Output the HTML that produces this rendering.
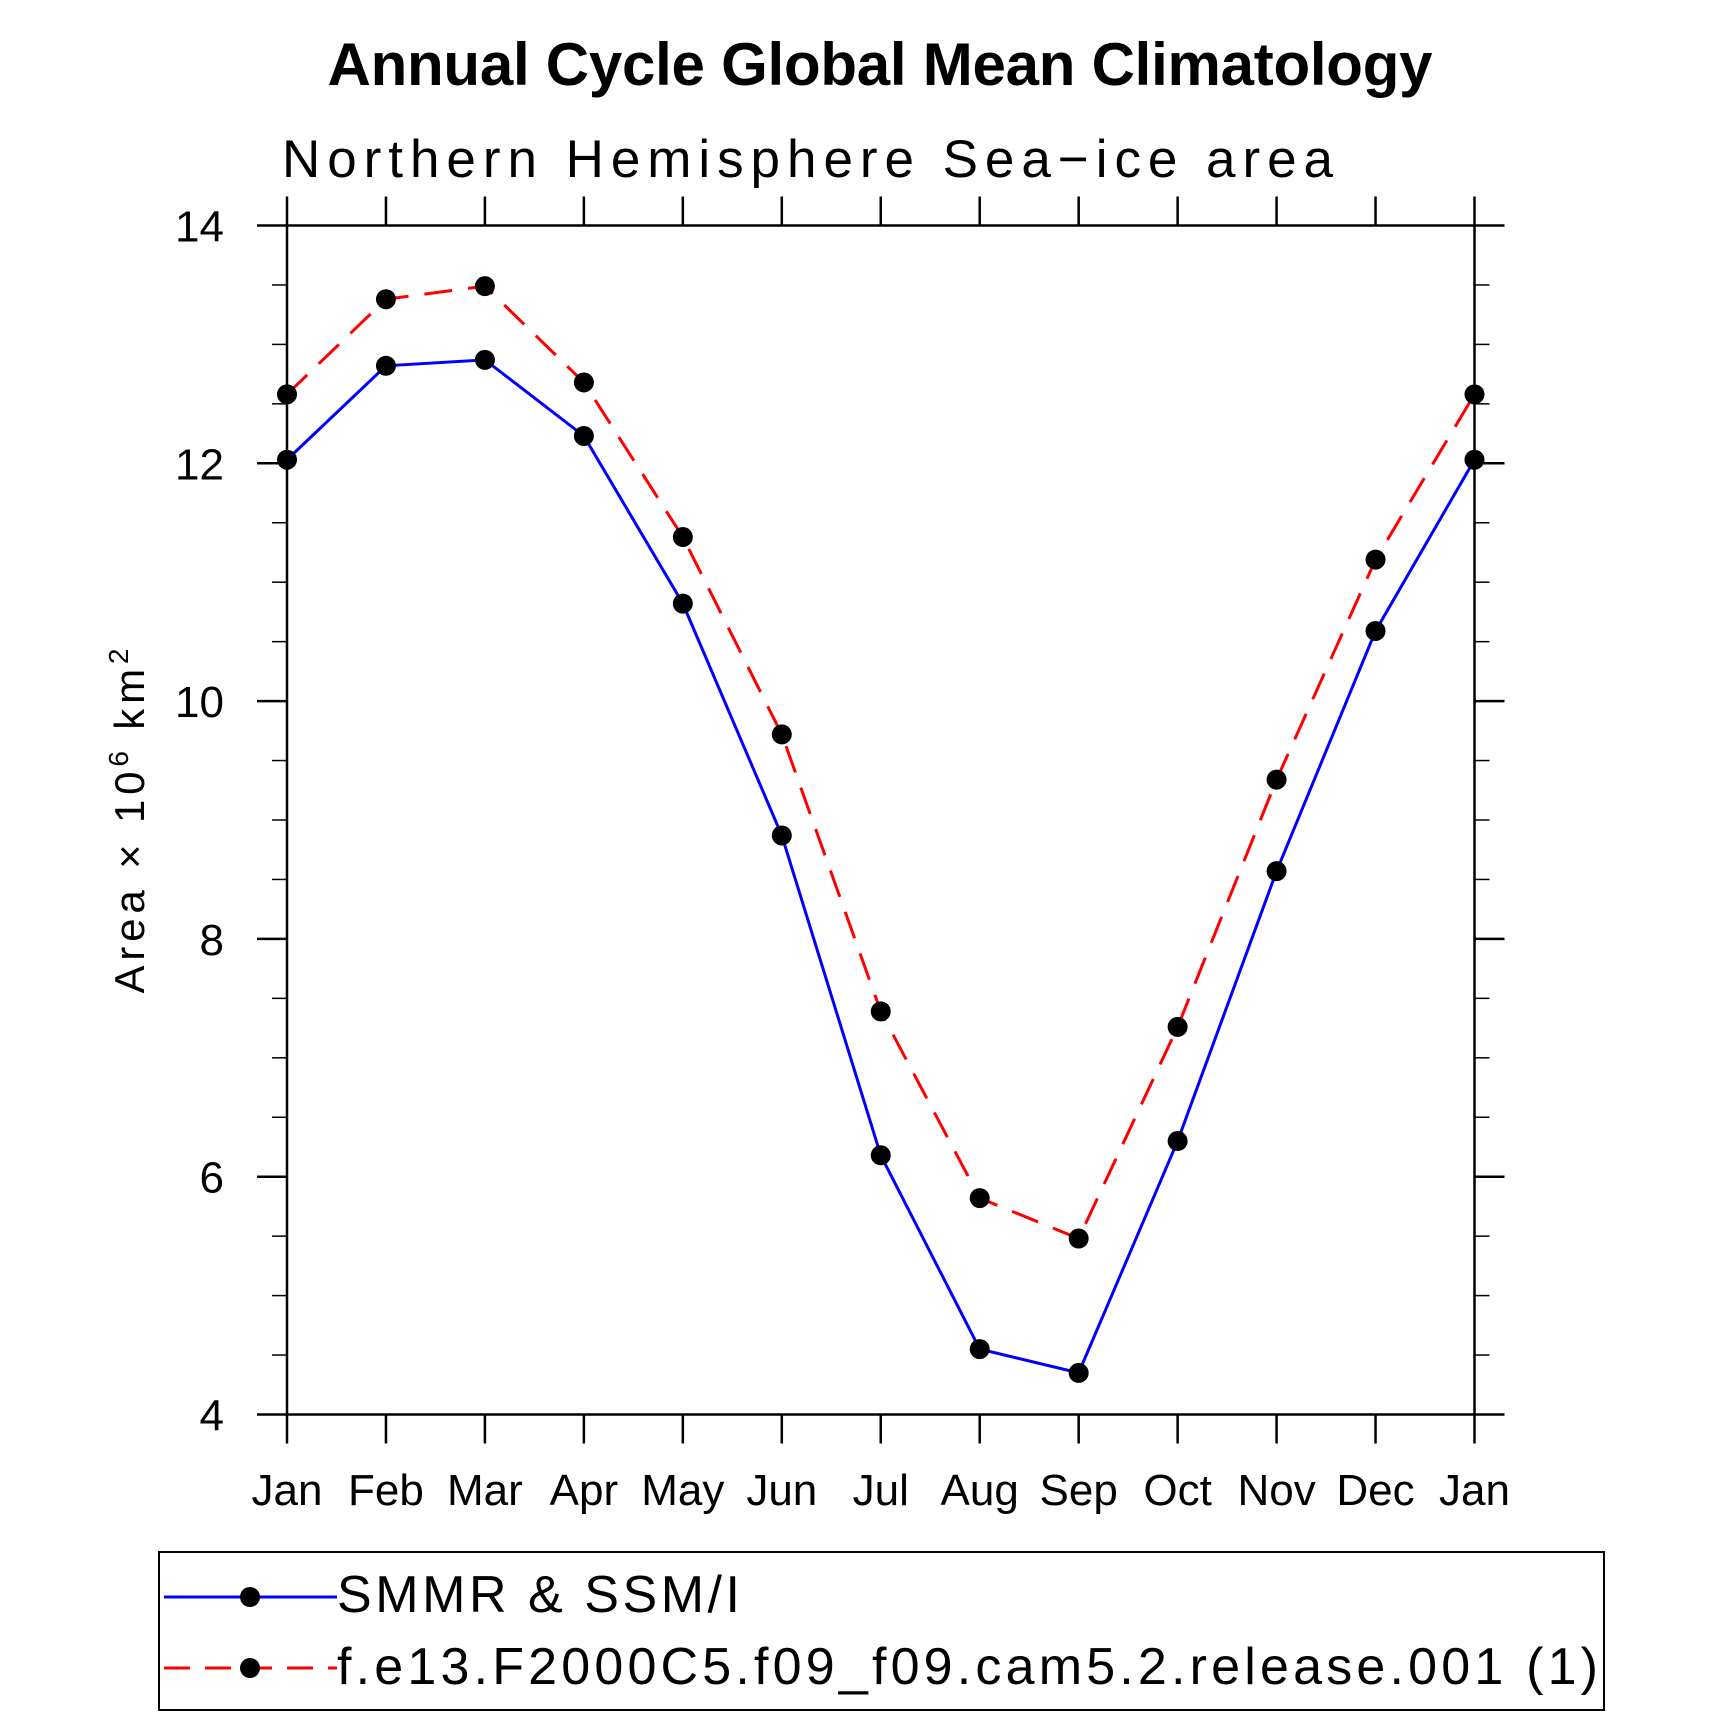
<!DOCTYPE html>
<html><head><meta charset="utf-8"><style>html,body{margin:0;padding:0;background:#fff}svg{display:block}</style></head>
<body>
<svg id="chart" xmlns="http://www.w3.org/2000/svg" width="1710" height="1718" viewBox="0 0 1710 1718" font-family="Liberation Sans, sans-serif">
<rect width="1710" height="1718" fill="#fff"/>
<text x="880" y="85" text-anchor="middle" font-size="60" font-weight="bold" textLength="1105">Annual Cycle Global Mean Climatology</text>
<text x="282" y="177" font-size="53" font-weight="normal" textLength="1051" lengthAdjust="spacing">Northern Hemisphere Sea−ice area</text>
<g id="axes"></g>
<g id="series"></g>
<text transform="translate(144,821) rotate(-90)" text-anchor="middle" font-size="42" textLength="345" lengthAdjust="spacing">Area × 10<tspan dy="-16" font-size="28">6</tspan><tspan dy="16"> km</tspan><tspan dy="-16" font-size="28">2</tspan></text>
<g>
<rect x="159" y="1552" width="1445" height="158" fill="none" stroke="#000" stroke-width="2"/>
<g>
<line x1="164" y1="1597" x2="337" y2="1597" stroke="#0000ff" stroke-width="3"/>
<circle cx="250" cy="1597" r="10"/>
<text x="337" y="1612" font-size="52" textLength="403" lengthAdjust="spacing">SMMR &amp; SSM/I</text>
</g>
<g>
<line x1="164" y1="1668" x2="337" y2="1668" stroke="#ff0000" stroke-width="3" stroke-dasharray="26,15"/>
<circle cx="250" cy="1668" r="10"/>
<text x="337" y="1684" font-size="52" textLength="1261" lengthAdjust="spacing">f.e13.F2000C5.f09_f09.cam5.2.release.001 (1)</text>
</g>
</g>
</svg>
<script>
const months = ["Jan","Feb","Mar","Apr","May","Jun","Jul","Aug","Sep","Oct","Nov","Dec","Jan"];
const obsValues = [12.03,12.82,12.87,12.23,10.82,8.87,6.18,4.55,4.35,6.30,8.57,10.59,12.03];
const modelValues = [12.58,13.38,13.49,12.68,11.38,9.72,7.39,5.82,5.48,7.26,9.34,11.19,12.58];
const yTicks = [4,6,8,10,12,14];

const NS="http://www.w3.org/2000/svg";
const L=287,R=1474.5,T=225.5,B=1414.5,YMIN=4,YMAX=14;
const xS=i=>L+(R-L)*i/(months.length-1);
const yS=v=>B-(B-T)*(v-YMIN)/(YMAX-YMIN);
function mk(tag,attrs,parent){const e=document.createElementNS(NS,tag);for(const k in attrs)e.setAttribute(k,attrs[k]);parent.appendChild(e);return e;}
const axes=document.getElementById('axes');
const frame=mk('rect',{x:L,y:T,width:R-L,height:B-T,fill:'none',stroke:'#000','stroke-width':2.5},axes);


months.forEach((m,i)=>{
  const x=xS(i);
  const t1=mk('line',{x1:x,y1:B,x2:x,y2:B+29,stroke:'#000','stroke-width':2.5},axes);
  
  
  const t2=mk('line',{x1:x,y1:T,x2:x,y2:T-29,stroke:'#000','stroke-width':2.5},axes);
  
  
  const lb=mk('text',{x:x,y:1505,'text-anchor':'middle','font-size':44},axes);
  lb.textContent=m;
  
  
});
for(let v=YMIN;v<=YMAX+1e-9;v+=0.5){
  const y=yS(v);const major=Math.abs(v-Math.round(v/2)*2)<1e-9;const len=major?30:15;
  const a=mk('line',{x1:L-len,y1:y,x2:L,y2:y,stroke:'#000','stroke-width':major?2.5:1.5},axes);
  
  
  const b=mk('line',{x1:R,y1:y,x2:R+len,y2:y,stroke:'#000','stroke-width':major?2.5:1.5},axes);
  
  
}
yTicks.forEach(v=>{
  const lb=mk('text',{x:224,y:yS(v)+16,'text-anchor':'end','font-size':44},axes);
  lb.textContent=String(v);
  
  
});
const series=document.getElementById('series');
function draw(vals,color,dash,name){
  const g=mk('g',{},series);
  
  
  const pts=vals.map((v,i)=>xS(i)+','+yS(v)).join(' ');
  const attrs={points:pts,fill:'none',stroke:color,'stroke-width':3};
  if(dash)attrs['stroke-dasharray']=dash;
  const pl=mk('polyline',attrs,g);
  
  
  vals.forEach((v,i)=>{
    const c=mk('circle',{cx:xS(i),cy:yS(v),r:10,fill:'#000'},g);
    
    
  });
}
draw(modelValues,'#ff0000','28,16','series-model');
draw(obsValues,'#0000ff',null,'series-smmr');
</script>
</body></html>
